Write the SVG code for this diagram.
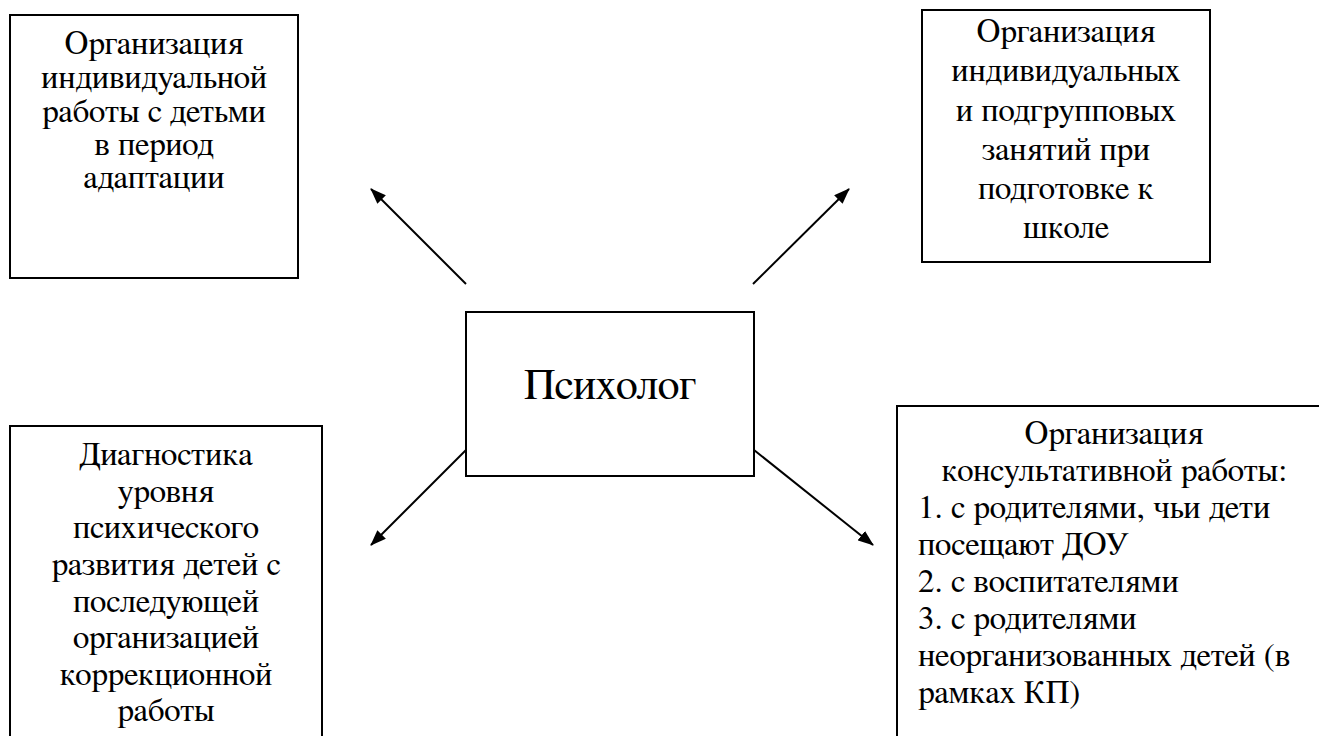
<svg xmlns="http://www.w3.org/2000/svg" width="1319" height="736" viewBox="0 0 1319 736">
<style>
.box{fill:#fff;stroke:#000;stroke-width:2}
text{font-family:FreeSerif,'Liberation Serif','DejaVu Serif',serif;font-size:33px;fill:#000}
.c{text-anchor:middle}
.big{font-size:44px}
.edge{stroke:#000;stroke-width:2;fill:none;marker-end:url(#ah)}
</style>
<defs>
<marker id="ah" markerWidth="16" markerHeight="12" refX="15" refY="6" orient="auto" markerUnits="userSpaceOnUse">
<path d="M0,0 L16,6 L0,12 Z" fill="#000"/>
</marker>
</defs>
<rect width="1319" height="736" fill="#fff"/>
<g id="connectors">
<line class="edge" x1="466" y1="284" x2="371" y2="189"/>
<line class="edge" x1="753" y1="284" x2="849" y2="189"/>
<line class="edge" x1="466" y1="450" x2="371" y2="545"/>
<line class="edge" x1="754" y1="450" x2="873" y2="545"/>
</g>
<g id="n1">
<rect class="box" x="10" y="15" width="288" height="263"/>
<text class="c" x="154" y="54">Организация</text>
<text class="c" x="154" y="88">индивидуальной</text>
<text class="c" x="154" y="122">работы с детьми</text>
<text class="c" x="154" y="155">в период</text>
<text class="c" x="154" y="188">адаптации</text>
</g>
<g id="n2">
<rect class="box" x="922" y="10" width="288" height="252"/>
<text class="c" x="1066" y="42">Организация</text>
<text class="c" x="1066" y="81">индивидуальных</text>
<text class="c" x="1066" y="121">и подгрупповых</text>
<text class="c" x="1066" y="160">занятий при</text>
<text class="c" x="1066" y="199">подготовке к</text>
<text class="c" x="1066" y="238">школе</text>
</g>
<g id="center">
<rect class="box" x="466" y="312" width="288" height="164"/>
<text class="c big" x="610" y="399">Психолог</text>
</g>
<g id="n3">
<rect class="box" x="10" y="426" width="312" height="320"/>
<text class="c" x="166" y="465">Диагностика</text>
<text class="c" x="166" y="502">уровня</text>
<text class="c" x="166" y="538">психического</text>
<text class="c" x="166" y="575">развития детей с</text>
<text class="c" x="166" y="612">последующей</text>
<text class="c" x="166" y="648">организацией</text>
<text class="c" x="166" y="685">коррекционной</text>
<text class="c" x="166" y="721">работы</text>
</g>
<g id="n4">
<rect class="box" x="897" y="406" width="440" height="340"/>
<text class="c" x="1114" y="444">Организация</text>
<text class="c" x="1114" y="481">консультативной работы:</text>
<text x="918" y="518">1. с родителями, чьи дети</text>
<text x="918" y="555">посещают ДОУ</text>
<text x="918" y="592">2. с воспитателями</text>
<text x="918" y="629">3. с родителями</text>
<text x="918" y="666">неорганизованных детей (в</text>
<text x="918" y="703">рамках КП)</text>
</g>
</svg>
